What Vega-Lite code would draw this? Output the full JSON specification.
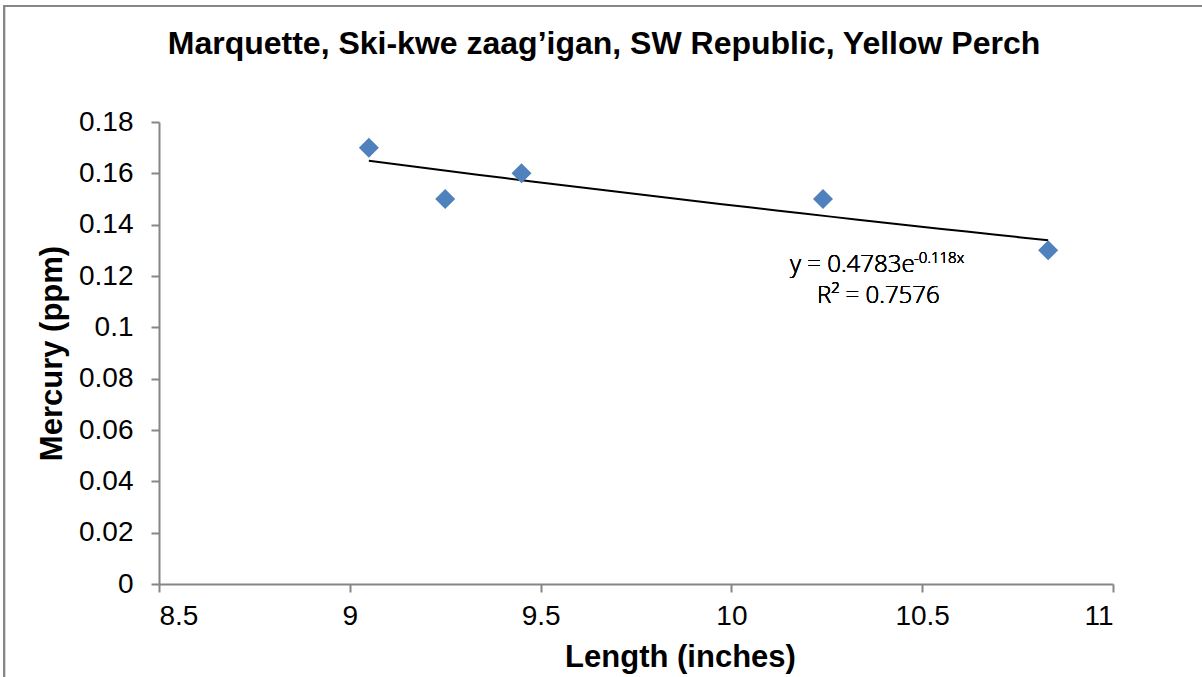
{
  "$schema": "https://vega.github.io/schema/vega-lite/v6.json",
  "width": 954,
  "height": 462,
  "autosize": {"type": "none"},
  "padding": {"left": 159, "top": 122, "right": 89, "bottom": 93},
  "background": "white",
  "config": {
    "view": {"stroke": null},
    "font": "Liberation Sans"
  },
  "title": {
    "text": "Marquette, Ski-kwe zaag’igan, SW Republic, Yellow Perch",
    "font": "Liberation Sans",
    "fontSize": 32,
    "fontWeight": "bold",
    "color": "black",
    "anchor": "middle",
    "frame": "group",
    "dx": -32,
    "offset": -56
  },
  "data": {
    "values": [
      {"length": 9.05, "mercury": 0.17},
      {"length": 9.25, "mercury": 0.15},
      {"length": 9.45, "mercury": 0.16},
      {"length": 10.24, "mercury": 0.15},
      {"length": 10.83, "mercury": 0.13}
    ]
  },
  "layer": [
    {
      "mark": {"type": "rect", "fill": null, "stroke": "#868686", "strokeWidth": 2},
      "encoding": {
        "x": {"datum": 8.094, "type": "quantitative"},
        "x2": {"datum": 11.4},
        "y": {"datum": 0.2252, "type": "quantitative"},
        "y2": {"datum": -0.07}
      }
    },
    {
      "transform": [{"regression": "mercury", "on": "length", "method": "exp"}],
      "mark": {"type": "line", "color": "black", "strokeWidth": 2},
      "encoding": {
        "x": {"field": "length", "type": "quantitative"},
        "y": {"field": "mercury", "type": "quantitative"}
      }
    },
    {
      "mark": {"type": "point", "shape": "diamond", "filled": true, "size": 400, "color": "#4F81BD", "opacity": 1},
      "encoding": {
        "x": {
          "field": "length",
          "type": "quantitative",
          "scale": {"domain": [8.5, 11], "nice": false, "zero": false},
          "axis": {
            "title": "Length (inches)",
            "values": [8.5, 9, 9.5, 10, 10.5, 11],
            "format": "~g",
            "grid": false,
            "domainColor": "#868686",
            "domainWidth": 2,
            "tickColor": "#868686",
            "tickWidth": 2,
            "tickSize": 8,
            "labelFont": "Liberation Sans",
            "labelFontSize": 28,
            "labelColor": "black",
            "labelPadding": 10,
            "titleFont": "Liberation Sans",
            "titleFontSize": 31,
            "titleFontWeight": "bold",
            "titleColor": "black",
            "titlePadding": 12,
            "titleX": 521
          }
        },
        "y": {
          "field": "mercury",
          "type": "quantitative",
          "scale": {"domain": [0, 0.18], "nice": false},
          "axis": {
            "title": "Mercury (ppm)",
            "values": [0, 0.02, 0.04, 0.06, 0.08, 0.1, 0.12, 0.14, 0.16, 0.18],
            "format": "~g",
            "grid": false,
            "domainColor": "#868686",
            "domainWidth": 2,
            "tickColor": "#868686",
            "tickWidth": 2,
            "tickSize": 8,
            "labelFont": "Liberation Sans",
            "labelFontSize": 28,
            "labelColor": "black",
            "labelPadding": 18,
            "titleFont": "Liberation Sans",
            "titleFontSize": 31,
            "titleFontWeight": "bold",
            "titleColor": "black",
            "titlePadding": 10
          }
        }
      }
    },
    {
      "mark": {"type": "text", "font": "Open Sans", "fontWeight": 300, "fontSize": 24, "align": "left", "baseline": "alphabetic", "color": "black"},
      "encoding": {
        "x": {"datum": 10.1536, "type": "quantitative"},
        "y": {"datum": 0.1216, "type": "quantitative"},
        "text": {"value": "y = 0.4783e"}
      }
    },
    {
      "mark": {"type": "text", "font": "Open Sans", "fontWeight": 300, "fontSize": 15, "align": "left", "baseline": "alphabetic", "color": "black"},
      "encoding": {
        "x": {"datum": 10.4785, "type": "quantitative"},
        "y": {"datum": 0.1251, "type": "quantitative"},
        "text": {"value": "-0.118x"}
      }
    },
    {
      "mark": {"type": "text", "font": "Open Sans", "fontWeight": 300, "fontSize": 24, "align": "left", "baseline": "alphabetic", "color": "black"},
      "encoding": {
        "x": {"datum": 10.2243, "type": "quantitative"},
        "y": {"datum": 0.1095, "type": "quantitative"},
        "text": {"value": "R² = 0.7576"}
      }
    }
  ]
}
